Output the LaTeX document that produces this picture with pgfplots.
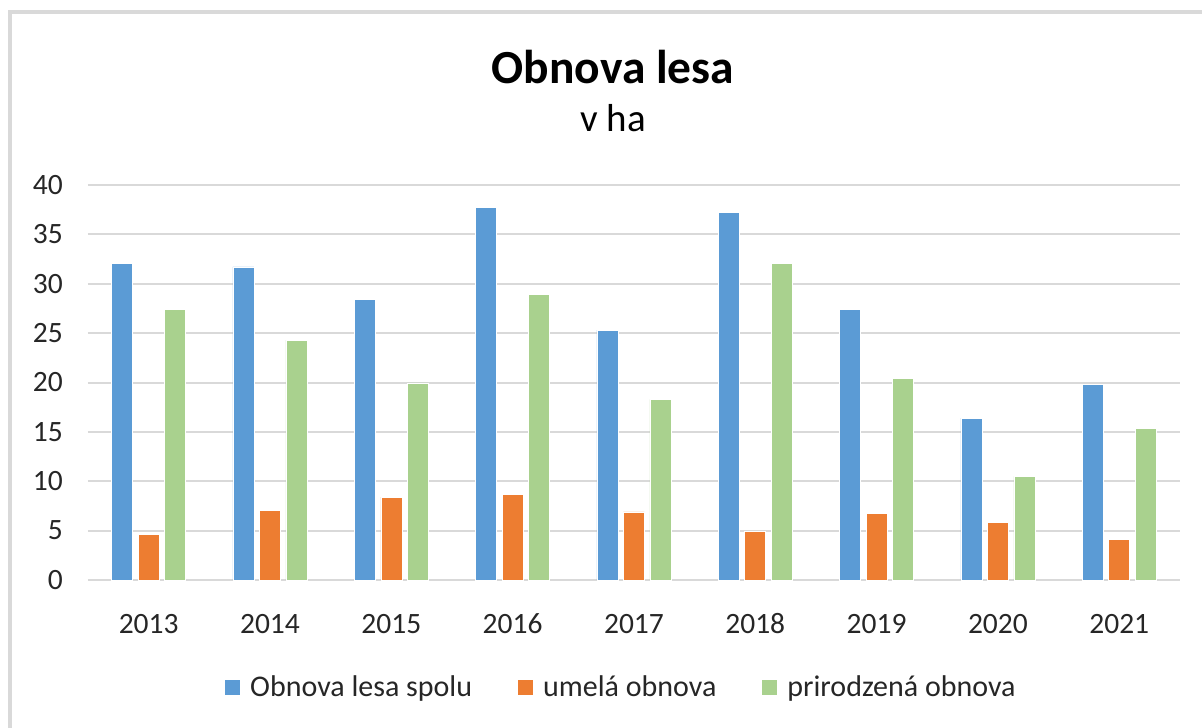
\documentclass[border=0pt]{standalone}
\usepackage{fontspec}
\setmainfont{Carlito}
\usepackage{pgfplots}
\pgfplotsset{compat=1.18}
\definecolor{cblue}{HTML}{5B9BD5}
\definecolor{corange}{HTML}{ED7D31}
\definecolor{cgreen}{HTML}{A9D18E}
\definecolor{cgrid}{HTML}{D9D9D9}
\begin{document}
\begin{tikzpicture}
% page: 1202 x 728, axis box lower left at (88,580) px
\path[use as bounding box] (-88pt,-148pt) rectangle (1114pt,580pt);
\draw[cgrid, line width=3.5pt] (-78pt,-160pt) -- (-78pt,568pt) -- (1130pt,568pt);
\begin{axis}[
    at={(0pt,0pt)}, anchor=south west,
    scale only axis,
    width=1092pt, height=395pt,
    ybar=5.5pt, bar width=21pt,
    xmin=-0.5, xmax=8.5,
    ymin=0, ymax=40,
    ytick={0,5,...,40},
    xtick={0,...,8},
    xticklabels={2013,2014,2015,2016,2017,2018,2019,2020,2021},
    ymajorgrids,
    major grid style={draw=cgrid, line width=2pt},
    axis line style={draw=none},
    tick style={draw=none},
    /pgf/number format/assume math mode=true,
    tick label style={font=\fontsize{29.5}{35}\selectfont, text=black!85},
    yticklabel style={anchor=east, inner sep=0pt, xshift=-25pt},
    xticklabel style={anchor=base, inner sep=0pt, yshift=-49pt},
    clip=false,
    legend columns=3,
    legend style={
        at={(0.4876,-0.2709)}, anchor=center,
        draw=none, fill=none, inner sep=0pt,
        font=\fontsize{30}{36}\selectfont,
        nodes={inner sep=0pt, text=black!85},
        /tikz/every odd column/.append style={column sep=10pt},
        /tikz/every even column/.append style={column sep=46pt},
    },
    legend image code/.code={\fill[#1, draw=none] (0pt,-7.5pt) rectangle (15pt,7.5pt);},
]
\addplot[fill=cblue, draw=white, line width=0.6pt] coordinates {
(0,32.1) (1,31.7) (2,28.4) (3,37.7) (4,25.3) (5,37.2) (6,27.4) (7,16.4) (8,19.8)
};
\addlegendentry{Obnova lesa spolu}
\addplot[fill=corange, draw=white, line width=0.6pt] coordinates {
(0,4.6) (1,7.05) (2,8.4) (3,8.7) (4,6.9) (5,4.95) (6,6.75) (7,5.8) (8,4.15)
};
\addlegendentry{umelá obnova}
\addplot[fill=cgreen, draw=white, line width=0.6pt] coordinates {
(0,27.4) (1,24.3) (2,19.95) (3,28.9) (4,18.3) (5,32.1) (6,20.4) (7,10.5) (8,15.35)
};
\addlegendentry{prirodzená obnova}
\node[anchor=base, font=\fontsize{47.5}{57}\selectfont\bfseries] at (rel axis cs:0.4808,1.2582) {Obnova lesa};
\node[anchor=base, font=\fontsize{39}{47}\selectfont] at (rel axis cs:0.4808,1.1349) {v ha};
\end{axis}
\end{tikzpicture}
\end{document}
